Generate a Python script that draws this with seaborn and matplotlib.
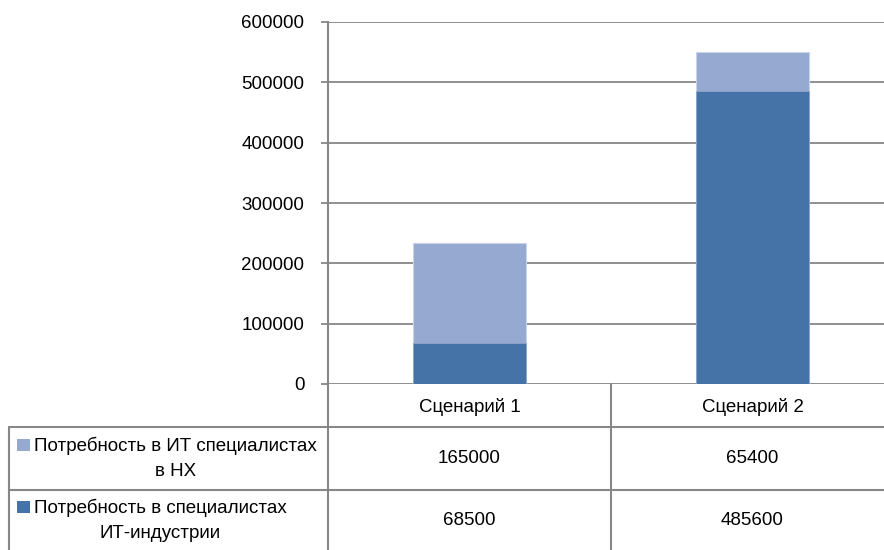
import matplotlib
matplotlib.use("Agg")
import matplotlib.pyplot as plt
import matplotlib.transforms as mtransforms
from matplotlib.lines import Line2D
from matplotlib.patches import Rectangle
import pandas as pd
import seaborn as sns

# Data
categories = ["Сценарий 1", "Сценарий 2"]
series_names = ["Потребность в ИТ специалистах\nв НХ",
                "Потребность в специалистах\nИТ-индустрии"]
it_in_economy = [165000, 65400]      # upper segment
it_industry = [68500, 485600]        # lower segment
y_ticks = [0, 100000, 200000, 300000, 400000, 500000, 600000]

LIGHT = "#95A9D1"
DARK = "#4572A7"
GRID = "#878787"

sns.set_theme(style="white")
plt.rcParams["font.family"] = ["Liberation Sans", "DejaVu Sans"]
FS = 13.5

W, H = 884, 550
fig = plt.figure(figsize=(W / 100, H / 100), dpi=100)
fig.patch.set_facecolor("white")


def fx(x):
    return x / W


def fy(y):
    return 1 - y / H


# plot area (right side runs past the figure edge)
ax = fig.add_axes([fx(328), fy(384), 566 / W, 362 / H])

df = pd.DataFrame({
    "category": categories,
    "total": [a + b for a, b in zip(it_in_economy, it_industry)],
    "bottom": it_industry,
})

sns.barplot(data=df, x="category", y="total", color=LIGHT, saturation=1,
            width=0.4, edgecolor="#c9d4ea", linewidth=0.8, ax=ax, zorder=3)
sns.barplot(data=df, x="category", y="bottom", color=DARK, saturation=1,
            width=0.4, edgecolor="#8fa6c9", linewidth=0.6, ax=ax, zorder=4)

ax.set_xlim(-0.5, 1.5)
ax.set_ylim(0, 600000)
ax.set_yticks(y_ticks)
ax.set_yticklabels([str(v) for v in y_ticks], fontsize=FS, color="black")
ax.set_xticks([])
ax.set_xlabel("")
ax.set_ylabel("")
ax.yaxis.grid(True, color=GRID, linewidth=1.3, zorder=0)
ax.set_axisbelow(True)
for s in ["top", "right", "bottom"]:
    ax.spines[s].set_visible(False)
ax.spines["left"].set_color(GRID)
ax.spines["left"].set_linewidth(1.5)
ax.tick_params(axis="y", left=True, length=5, width=1.3, color=GRID, pad=12)

# data table under the plot
line_kw = dict(color=GRID, linewidth=1.5, transform=fig.transFigure)
right = 900
table_lines = [
    ((328, 328), (384, 552)),
    ((611, 611), (384, 552)),
    ((9, 9), (427, 552)),
    ((9, right), (427, 427)),
    ((9, right), (490, 490)),
]
for xs, ys in table_lines:
    fig.add_artist(Line2D([fx(v) for v in xs], [fy(v) for v in ys], **line_kw))

# column centres follow the category axis
trans = mtransforms.blended_transform_factory(ax.transData, fig.transFigure)
row_centres = [458.5, 520.5]
for i, cat in enumerate(categories):
    ax.text(i, fy(407), cat, transform=trans, ha="center", va="center",
            fontsize=FS, color="black", clip_on=False)
    for r, vals in enumerate([it_in_economy, it_industry]):
        ax.text(i, fy(row_centres[r]), str(vals[i]), transform=trans,
                ha="center", va="center", fontsize=FS, color="black",
                clip_on=False)

# row headers with legend keys
for r, (name, col) in enumerate(zip(series_names, [LIGHT, DARK])):
    yc = row_centres[r]
    fig.add_artist(Rectangle((fx(17), fy(yc - 7.5)), 12.5 / W, 12.5 / H,
                             facecolor=col, edgecolor="none",
                             transform=fig.transFigure))
    fig.text(fx(34), fy(yc), name, ha="left", va="center",
             multialignment="center", fontsize=FS, color="black",
             linespacing=1.6)

fig.savefig("out.png", dpi=100, facecolor="white")
